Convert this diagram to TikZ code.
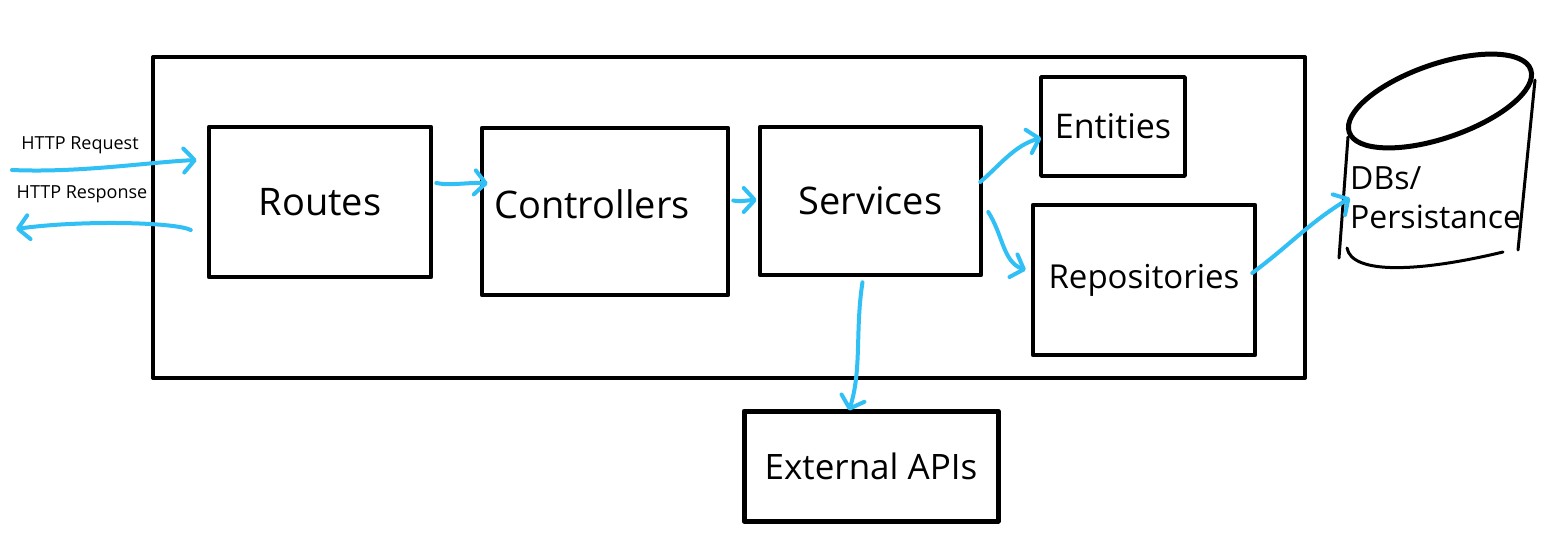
\documentclass[tikz,border=0pt]{standalone}
\usepackage{fontspec}
\setmainfont{Open Sans}
\usetikzlibrary{arrows.meta,calc}
\definecolor{arrowblue}{RGB}{48,192,245}
\tikzset{
  box/.style={draw=black,line width=4.5pt,rectangle,inner sep=0pt,line join=round},
  flow/.style={draw=arrowblue,line width=4pt,line cap=round,line join=round,
    -{Straight Barb[length=11pt,width=24pt,line cap=round,line join=round]}},
  bigtext/.style={font=\fontsize{38}{40}\selectfont},
  midtext/.style={font=\fontsize{32}{39}\selectfont},
  smalltext/.style={font=\fontsize{18}{20}\selectfont},
}
\begin{document}
\begin{tikzpicture}[x=1pt,y=-1pt]
\useasboundingbox (0,0) rectangle (1545,535);
\fill[white] (0,0) rectangle (1545,535);
% outer container
\node[box,line width=4pt,minimum width=1152pt,minimum height=321pt] (outer) at (729,217.5) {};
% boxes
\node[box,bigtext,minimum width=222pt,minimum height=150pt] (routes) at (320,202) {Routes};
\node[box,minimum width=246pt,minimum height=167pt,
  label={[bigtext,xshift=-13pt,yshift=7pt]center:Controllers}] (controllers) at (605,211.5) {};
\node[box,bigtext,minimum width=221pt,minimum height=148pt] (services) at (870.5,201) {Services};
\node[box,font=\fontsize{34}{38}\selectfont,line width=3.5pt,minimum width=144pt,minimum height=99pt] (entities) at (1113,126.5) {Entities};
\node[box,font=\fontsize{33}{38}\selectfont,minimum width=222pt,minimum height=150pt] (repos) at (1144,280) {Repositories};
\node[box,font=\fontsize{35}{38}\selectfont,line width=5pt,minimum width=254pt,minimum height=110pt] (external) at (871,466) {External APIs};
% database cylinder
\draw[line width=5pt,rotate around={19:(1440,101)}] (1440,101) ellipse [x radius=96, y radius=37];
\draw[line width=3pt,line cap=round] (1348,137) -- (1339,258);
\draw[line width=3pt,line cap=round] (1535,80) -- (1518,250);
\draw[line width=3pt,line cap=round] (1347,248) .. controls (1352,275) and (1420,272) .. (1503,252);
\node[midtext,align=left,anchor=west,inner sep=0pt] (db) at (1350,198) {DBs/\\Persistance};
% labels
\node[smalltext] (reqlabel) at (80,145) {HTTP Request};
\node[smalltext] (resplabel) at (82,194) {HTTP Response};
% arrows
\coordinate (reqS) at (12,170);
\coordinate (respE) at (16,229);
\draw[flow] (reqS) .. controls (80,173) and (150,162) .. ($(routes.west)+(-10,-42)$);
\draw[flow] ($(routes.west)+(-16,28)$) .. controls (175,222) and (80,220) .. (respE);
\draw[flow] ($(routes.east)+(3,-19)$) .. controls (450,186) and (470,182) .. ($(controllers.west)+(8,-28)$);
\draw[flow] ($(controllers.east)+(3,-11)$) .. controls (740,202) and (750,200) .. ($(services.west)+(-1,-1)$);
\draw[flow] ($(services.east)+(-3,-19)$) .. controls (1000,165) and (1015,145) .. ($(entities.west)+(2,11.5)$);
\draw[flow] ($(services.east)+(5,11)$) .. controls (1003,235) and (1003,262) .. ($(repos.west)+(-5,-10)$);
\draw[flow] ($(services.south)+(-8,5)$) .. controls (855,330) and (862,370) .. ($(external.north)+(-22,2)$);
\draw[flow] ($(repos.east)+(-5,-7)$) .. controls (1290,245) and (1310,222) .. (db.west);
\end{tikzpicture}
\end{document}
